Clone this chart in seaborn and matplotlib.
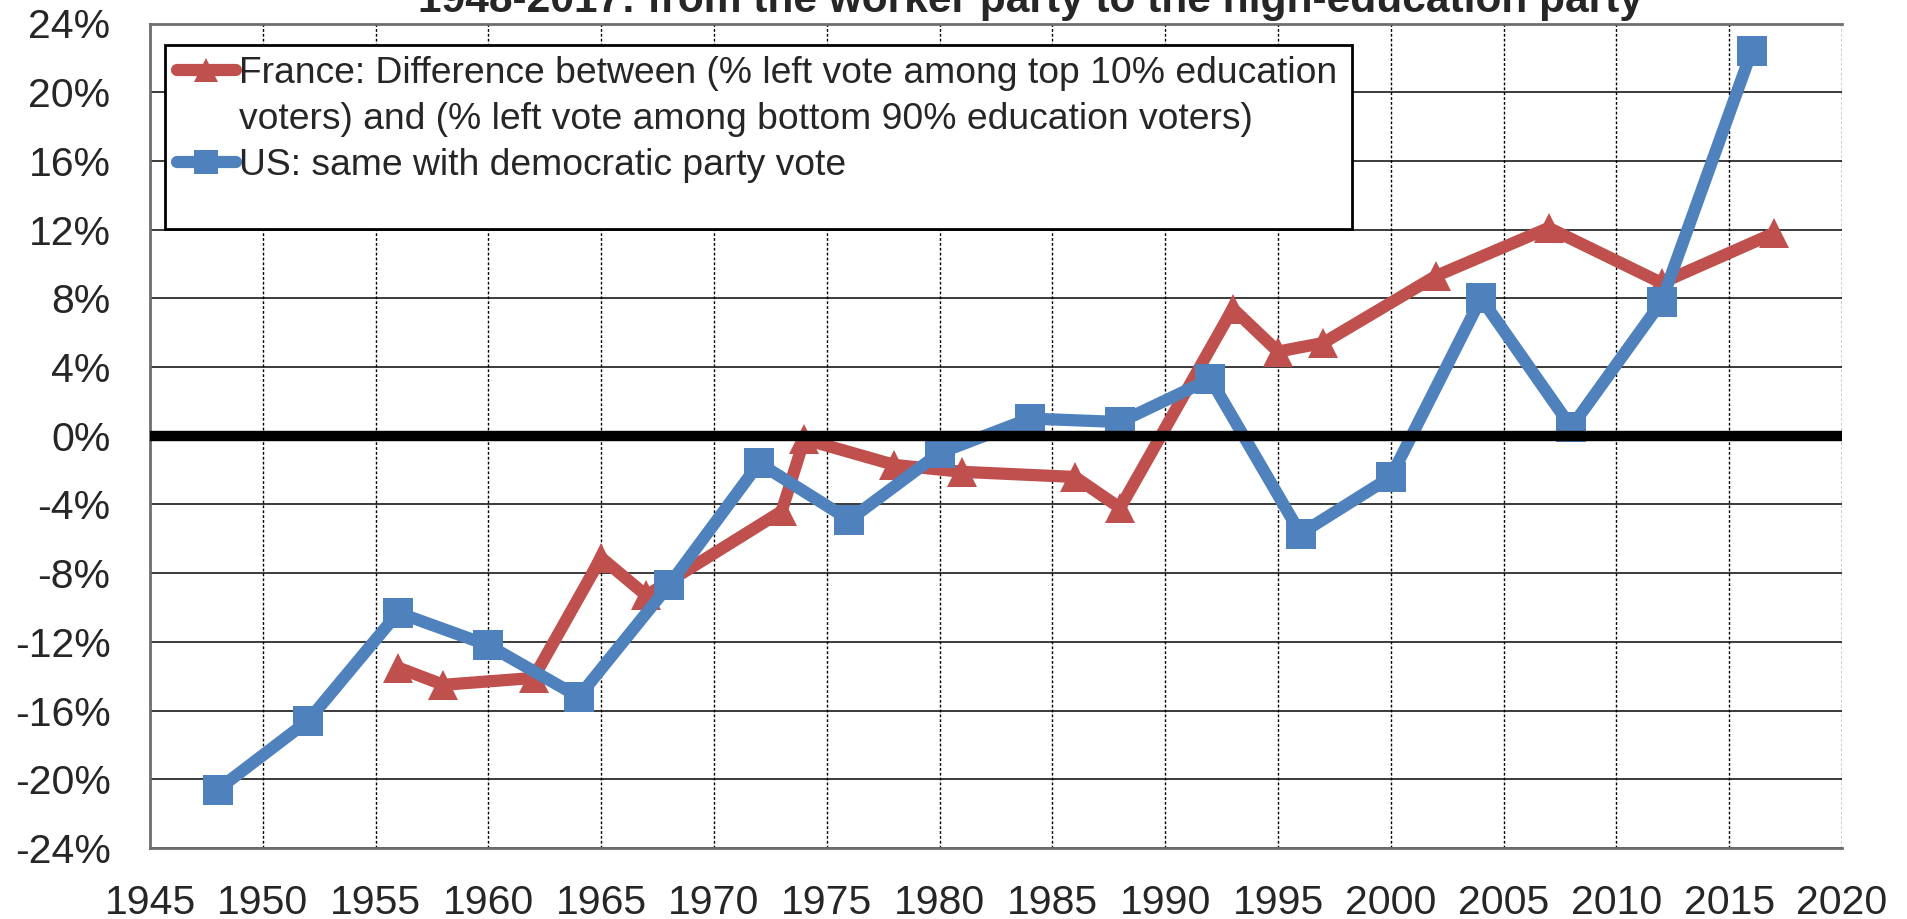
import matplotlib
matplotlib.use("Agg")
import matplotlib.pyplot as plt
import matplotlib.ticker as mticker
from matplotlib.lines import Line2D
from matplotlib.patches import Rectangle
import seaborn as sns

# Data (values in %)
us_years = [1948, 1952, 1956, 1960, 1964, 1968, 1972, 1976, 1980, 1984,
            1988, 1992, 1996, 2000, 2004, 2008, 2012, 2016]
us_vals = [-20.6, -16.6, -10.3, -12.2, -15.2, -8.7, -1.6, -4.9, -1.0, 1.0,
           0.8, 3.3, -5.7, -2.4, 8.0, 0.5, 7.8, 22.4]

fr_years = [1956, 1958, 1962, 1965, 1967, 1973, 1974, 1978, 1981, 1986,
            1988, 1993, 1995, 1997, 2002, 2007, 2012, 2017]
fr_vals = [-13.5, -14.5, -14.1, -7.1, -9.3, -4.4, -0.2, -1.7, -2.1, -2.4,
           -4.2, 7.4, 4.9, 5.4, 9.3, 12.1, 8.9, 11.8]

fr_label1 = "France: Difference between (% left vote among top 10% education"
fr_label2 = "voters) and (% left vote among bottom 90% education voters)"
us_label = "US: same with democratic party vote"
title = "1948-2017: from the worker party to the high-education party"

sns.set_style("white")
plt.rcParams["font.family"] = ["Liberation Sans", "DejaVu Sans"]

W, H = 1908, 919
fig = plt.figure(figsize=(W / 100, H / 100), dpi=100)
ax = fig.add_axes([150 / W, 1 - 848 / H, (1842 - 150) / W, (848 - 23.5) / H])

red = "#C0504D"
blue = "#4F81BD"

sns.lineplot(x=fr_years, y=fr_vals, ax=ax, color=red, linewidth=8.8,
             marker="^", markersize=21, markeredgewidth=0, zorder=3)
sns.lineplot(x=us_years, y=us_vals, ax=ax, color=blue, linewidth=8.8,
             marker="s", markersize=21, markeredgewidth=0, zorder=4)

# zero axis line drawn on top of the series
ax.axhline(0, color="black", linewidth=7.5, zorder=5)

ax.set_xlim(1945, 2020)
ax.set_ylim(-24, 24)
ax.set_xticks(range(1945, 2021, 5))
ax.set_yticks(range(-24, 25, 4))
ax.yaxis.set_major_formatter(mticker.FuncFormatter(lambda v, p: f"{v:.0f}%"))

ax.grid(False)
for y in range(-24, 25, 4):
    ax.axhline(y, color="#3a3a3a", linewidth=1.4, zorder=1)
for x in range(1950, 2021, 5):
    ax.axvline(x, color="black", linewidth=1.0, linestyle=(0, (2, 1.5)), zorder=1)

for s in ["left", "bottom", "top"]:
    ax.spines[s].set_color("#6e6e6e")
    ax.spines[s].set_linewidth(2)
ax.spines["right"].set_visible(False)

ax.tick_params(axis="y", direction="out", length=9.4, width=1.5, color="#808080",
               pad=19, labelsize=29.5)
ax.tick_params(axis="x", length=0, pad=26, labelsize=29.5)
ax.set_xlabel("")
ax.set_ylabel("")

# legend: France label wraps onto a second line with no handle
fr_handle = Line2D([], [], color=red, linewidth=8.8, marker="^", markersize=17,
                   markeredgewidth=0, solid_capstyle="round")
us_handle = Line2D([], [], color=blue, linewidth=8.8, marker="s", markersize=17,
                   markeredgewidth=0, solid_capstyle="round")
blank = Line2D([], [], color="none")
leg = ax.legend([fr_handle, blank, us_handle], [fr_label1, fr_label2, us_label],
                loc="upper left", bbox_to_anchor=(177 / W, 1 - 56 / H),
                bbox_transform=fig.transFigure, frameon=False, fontsize=26.8,
                handlelength=1.58, handletextpad=0.08, borderpad=0,
                borderaxespad=0, labelspacing=0.3)
leg.set_zorder(7)

box = Rectangle((165 / W, 1 - 229 / H), (1352 - 165) / W, (229 - 45) / H,
                transform=fig.transFigure, facecolor="white", edgecolor="black",
                linewidth=2, zorder=6, clip_on=False)
ax.add_patch(box)

fig.text(1030 / W, 1 - 11.7 / H, title, ha="center", va="baseline",
         fontsize=30.6, fontweight="bold")

fig.savefig("out.png", dpi=100)
